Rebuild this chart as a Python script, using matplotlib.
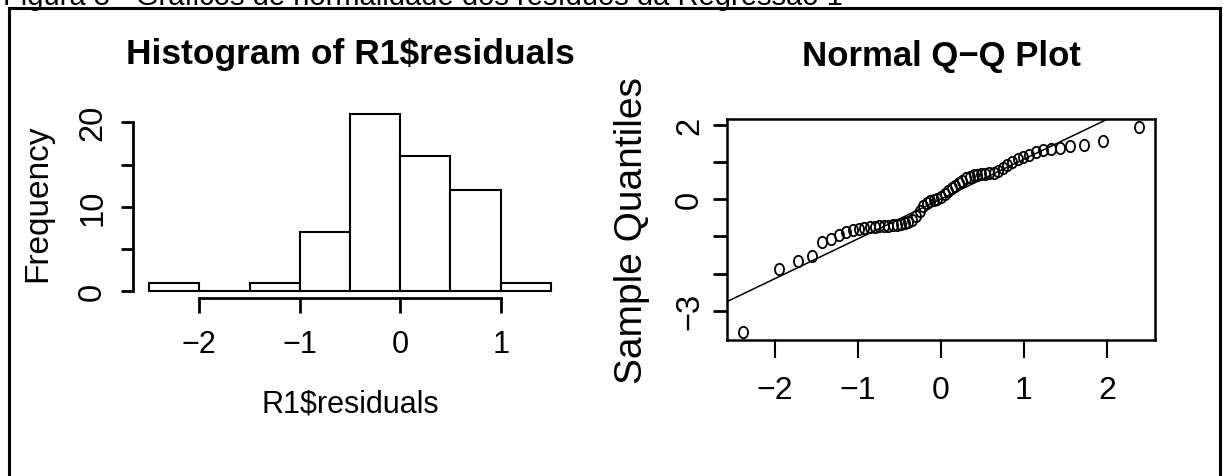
import matplotlib
matplotlib.use("Agg")
import matplotlib.pyplot as plt
import numpy as np
from statistics import NormalDist
from matplotlib.path import Path
from matplotlib.transforms import Affine2D
from matplotlib.lines import Line2D

plt.rcParams['font.family'] = ['Liberation Sans', 'DejaVu Sans']
plt.rcParams['axes.unicode_minus'] = True

caption = "Figura 3 - Gráficos de normalidade dos resíduos da Regressão 1"

# Histogram of the residuals
hist_title = "Histogram of R1$residuals"
hist_xlabel = "R1$residuals"
hist_ylabel = "Frequency"
bin_edges = [-2.5, -2.0, -1.5, -1.0, -0.5, 0.0, 0.5, 1.0, 1.5]
bin_counts = [1, 0, 1, 7, 21, 16, 12, 1]
hist_xticks = [-2, -1, 0, 1]
hist_yticks = [0, 5, 10, 15, 20]
hist_yticklabels = ["0", "", "10", "", "20"]

# Normal Q-Q plot of the residuals
qq_title = "Normal Q\u2212Q Plot"
qq_ylabel = "Sample Quantiles"
sample_quantiles = [
    -3.56, -1.87, -1.66, -1.52, -1.15, -1.06, -0.96, -0.88, -0.83, -0.79,
    -0.77, -0.75, -0.74, -0.73, -0.72, -0.71, -0.69, -0.68, -0.67, -0.65,
    -0.62, -0.56, -0.46, -0.32, -0.18, -0.10, -0.05, -0.02, 0.02, 0.07,
    0.14, 0.22, 0.30, 0.37, 0.44, 0.50, 0.56, 0.61, 0.64, 0.66,
    0.68, 0.69, 0.70, 0.71, 0.75, 0.84, 0.92, 1.00, 1.07, 1.14,
    1.20, 1.26, 1.32, 1.36, 1.37, 1.42, 1.46, 1.57, 1.94,
]
qq_xticks = [-2, -1, 0, 1, 2]
qq_yticks = [-3, -2, -1, 0, 1, 2]
qq_yticklabels = ["\u22123", "", "", "0", "", "2"]

W, H = 1223, 477
fig = plt.figure(figsize=(W / 100, H / 100), dpi=100)


def fx(px):
    return px / W


def fy(py):
    return 1 - py / H


def r_range(lo, hi):
    """Axis range padded by 4% on each side, as base R graphics does."""
    d = hi - lo
    return lo - 0.04 * d, hi + 0.04 * d


# ---------------- histogram ----------------
hl, hr, ht, hb = 133, 567, 107.8, 299.4
ax1 = fig.add_axes([fx(hl), fy(hb), fx(hr - hl), (hb - ht) / H])
edges = np.array(bin_edges)
ax1.bar(edges[:-1], bin_counts, width=np.diff(edges), align='edge',
        facecolor='white', edgecolor='black', linewidth=1.5)
ax1.set_xlim(*r_range(edges[0], edges[-1]))
ax1.set_ylim(*r_range(0, max(bin_counts)))
for s in ('top', 'right'):
    ax1.spines[s].set_visible(False)
ax1.spines['bottom'].set_bounds(hist_xticks[0], hist_xticks[-1])
ax1.spines['left'].set_bounds(hist_yticks[0], hist_yticks[-1])
for s in ('bottom', 'left'):
    ax1.spines[s].set_linewidth(2.0)
ax1.set_xticks(hist_xticks)
ax1.set_yticks(hist_yticks)
ax1.set_yticklabels(hist_yticklabels)
ax1.tick_params(axis='x', direction='out', length=10.8, width=2.0,
                labelsize=22, pad=11)
ax1.tick_params(axis='y', direction='out', length=9, width=2.0,
                labelsize=23.5, pad=9, labelrotation=90)
for lab in ax1.get_yticklabels():
    lab.set_va('center')
ax1.set_title(hist_title, fontsize=25.5, fontweight='bold', pad=0,
              y=1 + (ht - 64) / (hb - ht), va='baseline')
ax1.set_xlabel(hist_xlabel, fontsize=22)
ax1.xaxis.label.set(va='center')
ax1.xaxis.set_label_coords(0.5, (hb - 405) / (hb - ht))
ax1.set_ylabel(hist_ylabel, fontsize=24)
ax1.yaxis.label.set(va='center', ha='center', rotation_mode='default')
ax1.yaxis.set_label_coords((37.5 - hl) / (hr - hl), 0.5)

# ---------------- normal Q-Q plot ----------------
ql, qr, qt, qb = 727, 1155, 120, 340.7
ax2 = fig.add_axes([fx(ql), fy(qb), fx(qr - ql), (qb - qt) / H])
y = np.sort(np.array(sample_quantiles))
n = len(y)
a = 3 / 8 if n <= 10 else 0.5
nd = NormalDist()
x = np.array([nd.inv_cdf((i - a) / (n + 1 - 2 * a)) for i in range(1, n + 1)])

ellipse = Path.unit_circle().transformed(Affine2D().scale(0.8, 1.0))
ax2.plot(x, y, linestyle='none', marker=ellipse, markersize=8.2,
         markerfacecolor='none', markeredgecolor='black', markeredgewidth=1.3)

q1, q3 = np.quantile(y, [0.25, 0.75])
z1, z3 = nd.inv_cdf(0.25), nd.inv_cdf(0.75)
slope = (q3 - q1) / (z3 - z1)
intercept = q1 - slope * z1
ax2.axline((0, intercept), slope=slope, color='black', linewidth=1.1)

ax2.set_xlim(*r_range(x.min(), x.max()))
ax2.set_ylim(*r_range(y.min(), y.max()))
for s in ax2.spines.values():
    s.set_linewidth(1.8)
ax2.set_xticks(qq_xticks)
ax2.set_yticks(qq_yticks)
ax2.set_yticklabels(qq_yticklabels)
ax2.tick_params(axis='x', direction='out', length=12.7, width=1.5,
                labelsize=23, pad=12.5)
ax2.tick_params(axis='y', direction='out', length=10.3, width=2.0,
                labelsize=23.5, pad=5.5, labelrotation=90)
for lab in ax2.get_yticklabels():
    lab.set_va('center')
ax2.set_title(qq_title, fontsize=25, fontweight='bold', pad=0,
              y=1 + (qt - 66) / (qb - qt), va='baseline')
ax2.set_ylabel(qq_ylabel, fontsize=28)
ax2.yaxis.label.set(va='center', ha='center', rotation_mode='default')
ax2.yaxis.set_label_coords((632 - ql) / (qr - ql), 0.5)

# ---------------- figure frame and caption ----------------
fig.text(fx(3), fy(5), caption, fontsize=21, va='baseline', ha='left')
lw = 2.2
left_x, right_x, top_y = 8.7, 1219.5, 9
fig.add_artist(Line2D([fx(left_x)] * 2, [0, fy(top_y)], color='black', lw=lw))
fig.add_artist(Line2D([fx(left_x), fx(right_x)], [fy(top_y)] * 2,
                      color='black', lw=lw))
fig.add_artist(Line2D([fx(right_x)] * 2, [0, fy(top_y)], color='black', lw=lw))

fig.savefig("out.png", dpi=100)
